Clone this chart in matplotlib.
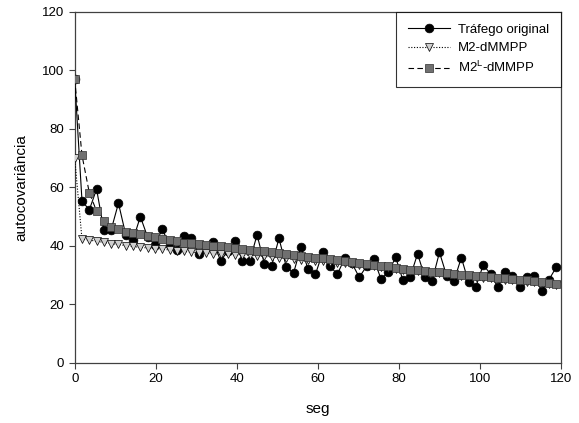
import numpy as np
import matplotlib
matplotlib.use("Agg")
import matplotlib.pyplot as plt

plt.rcParams['font.family'] = ['Liberation Sans', 'DejaVu Sans']

step = 1.8
n_points = 67
lags = np.arange(n_points) * step

trafego_original = [
    97.0, 55.4, 52.3, 59.4, 45.5, 45.5, 54.6, 43.8, 42.1, 50.0,
    43.0, 40.3, 45.7, 40.4, 38.6, 43.3, 42.6, 37.3, 39.2, 41.5,
    34.9, 38.3, 41.6, 34.9, 34.9, 43.8, 33.8, 33.2, 42.6, 32.9,
    30.7, 39.6, 32.0, 30.3, 37.8, 33.1, 30.3, 35.7, 34.1, 29.3,
    33.0, 35.5, 28.6, 31.1, 36.1, 28.2, 29.5, 37.3, 29.3, 28.1,
    37.8, 29.7, 28.1, 36.0, 27.5, 26.1, 33.5, 30.4, 25.9, 31.2,
    29.7, 25.9, 29.5, 29.7, 24.6, 28.4, 32.7,
]

m2_dmmpp = [
    70.0, 42.3, 42.0, 41.6, 41.2, 40.8, 40.5, 40.1, 39.8, 39.5,
    39.3, 39.1, 38.9, 38.6, 38.3, 38.1, 37.9, 37.7, 37.5, 37.3,
    37.2, 37.1, 37.0, 37.0, 36.8, 36.6, 36.4, 36.2, 36.0, 35.8,
    35.5, 35.3, 35.1, 34.9, 34.7, 34.5, 34.3, 34.0, 33.8, 33.6,
    33.4, 33.2, 32.9, 32.6, 32.2, 31.8, 31.5, 31.3, 31.0, 30.8,
    30.6, 30.3, 30.1, 29.8, 29.6, 29.4, 29.2, 28.9, 28.7, 28.5,
    28.2, 28.0, 27.8, 27.5, 27.3, 27.0, 26.7,
]

m2l_dmmpp = [
    97.0, 71.0, 58.2, 51.9, 48.5, 46.6, 45.7, 44.9, 44.3, 43.9,
    43.3, 43.0, 42.5, 42.1, 41.7, 41.1, 40.9, 40.6, 40.3, 40.0,
    39.8, 39.5, 39.2, 38.9, 38.6, 38.4, 38.1, 37.8, 37.5, 37.2,
    36.9, 36.6, 36.3, 36.0, 35.7, 35.4, 35.1, 34.8, 34.5, 34.2,
    33.9, 33.6, 33.3, 33.0, 32.6, 32.2, 31.9, 31.7, 31.4, 31.2,
    31.0, 30.7, 30.5, 30.2, 30.0, 29.8, 29.6, 29.3, 29.1, 28.9,
    28.6, 28.4, 28.2, 27.9, 27.7, 27.4, 27.1,
]

xticks = [0, 20, 40, 60, 80, 100, 120]
yticks = [0, 20, 40, 60, 80, 100, 120]

fig = plt.figure(figsize=(5.79, 4.23), dpi=100)
ax = fig.add_axes([0.129, 0.142, 0.840, 0.830])

ax.plot(lags, trafego_original, color='black', lw=0.8, ls='-',
        marker='o', ms=6.3, mfc='black', mec='black', mew=0.5,
        label='Tráfego original', zorder=3)
ax.plot(lags, m2_dmmpp, color='black', lw=0.8, ls=(0, (1, 1.5)),
        marker='v', ms=5.5, mfc='#d0d0d0', mec='black', mew=0.5,
        label='M2-dMMPP', zorder=4)
ax.plot(lags, m2l_dmmpp, color='black', lw=0.8, ls=(0, (5, 3)),
        marker='s', ms=5.5, mfc='#707070', mec='#303030', mew=0.5,
        label='M2$^{\\mathregular{L}}$-dMMPP', zorder=5)

ax.set_xlim(0, 120)
ax.set_ylim(0, 120)
ax.set_xticks(xticks)
ax.set_yticks(yticks)
ax.tick_params(direction='out', length=4, width=0.8, labelsize=9.5,
               color='#404040', top=False, right=False)
for s in ax.spines.values():
    s.set_linewidth(0.9)
    s.set_color('#404040')

ax.set_xlabel('seg', fontsize=11, labelpad=12)
ax.set_ylabel('autocovariância', fontsize=11, labelpad=10)

leg = ax.legend(loc='upper right', fontsize=9.5, frameon=True, fancybox=False,
                borderaxespad=0, handlelength=3.2, handletextpad=0.6,
                borderpad=0.9, labelspacing=0.45)
leg.get_frame().set_edgecolor('black')
leg.get_frame().set_linewidth(0.8)

fig.savefig('out.png', dpi=100)
